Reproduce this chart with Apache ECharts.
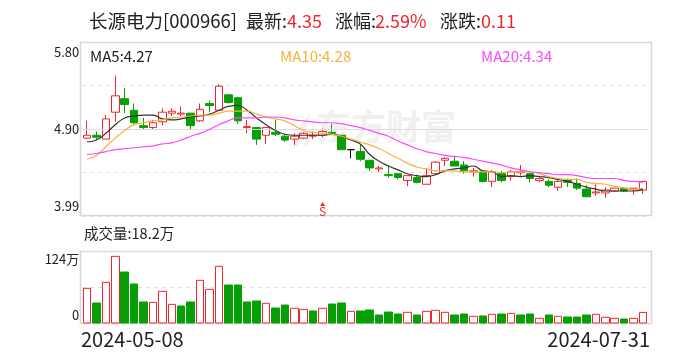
<!DOCTYPE html>
<html>
<head>
<meta charset="utf-8">
<style>
  html, body { margin: 0; padding: 0; background: #fff; }
  #main { width: 688px; height: 360px; }
</style>
<script src="https://cdn.jsdelivr.net/npm/echarts@6/dist/echarts.min.js"></script>
</head>
<body>
<div id="main"></div>
<script>
var dates = [
  '2024-05-08','2024-05-09','2024-05-10','2024-05-13','2024-05-14','2024-05-15','2024-05-16','2024-05-17','2024-05-20','2024-05-21',
  '2024-05-22','2024-05-23','2024-05-24','2024-05-27','2024-05-28','2024-05-29','2024-05-30','2024-05-31','2024-06-03','2024-06-04',
  '2024-06-05','2024-06-06','2024-06-07','2024-06-11','2024-06-12','2024-06-13','2024-06-14','2024-06-17','2024-06-18','2024-06-19',
  '2024-06-20','2024-06-21','2024-06-24','2024-06-25','2024-06-26','2024-06-27','2024-06-28','2024-07-01','2024-07-02','2024-07-03',
  '2024-07-04','2024-07-05','2024-07-08','2024-07-09','2024-07-10','2024-07-11','2024-07-12','2024-07-15','2024-07-16','2024-07-17',
  '2024-07-18','2024-07-19','2024-07-22','2024-07-23','2024-07-24','2024-07-25','2024-07-26','2024-07-29','2024-07-30','2024-07-31'
];
var opens = [
  4.80,4.83,4.79,5.07,5.21,5.09,4.93,4.91,4.97,5.06,
  5.05,5.06,4.98,5.16,5.09,5.25,5.22,4.91,4.91,4.83,
  4.86,4.82,4.79,4.80,4.82,4.83,4.86,4.83,4.68,4.66,
  4.57,4.48,4.42,4.43,4.36,4.39,4.32,4.43,4.57,4.56,
  4.52,4.45,4.45,4.35,4.43,4.40,4.44,4.43,4.36,4.35,
  4.29,4.36,4.33,4.27,4.23,4.23,4.25,4.28,4.27,4.26
];
var closes = [
  4.83,4.81,5.00,5.24,5.15,4.96,4.91,4.96,5.07,5.08,
  5.06,4.93,5.10,5.14,5.34,5.17,4.98,4.92,4.79,4.91,
  4.84,4.78,4.82,4.85,4.83,4.87,4.85,4.68,4.68,4.58,
  4.49,4.49,4.41,4.39,4.41,4.34,4.41,4.55,4.59,4.51,
  4.46,4.46,4.35,4.45,4.36,4.45,4.45,4.38,4.38,4.31,
  4.35,4.34,4.28,4.19,4.24,4.26,4.28,4.25,4.28,4.35
];
var lows = [
  4.79,4.78,4.79,4.97,5.06,4.94,4.89,4.89,4.93,5.03,
  5.03,4.89,4.97,5.07,5.08,5.16,4.95,4.85,4.73,4.74,
  4.82,4.76,4.73,4.79,4.79,4.81,4.83,4.68,4.59,4.56,
  4.46,4.45,4.39,4.37,4.30,4.33,4.32,4.43,4.51,4.51,
  4.43,4.40,4.34,4.29,4.34,4.36,4.41,4.34,4.34,4.29,
  4.25,4.29,4.26,4.19,4.20,4.18,4.24,4.24,4.21,4.22
];
var highs = [
  4.98,4.87,5.04,5.45,5.32,5.16,5.01,4.99,5.11,5.11,
  5.13,5.06,5.16,5.19,5.36,5.26,5.23,4.99,4.91,4.91,
  4.99,4.84,4.85,4.86,4.87,4.90,4.95,4.83,4.69,4.73,
  4.57,4.51,4.51,4.43,4.41,4.42,4.49,4.56,4.60,4.61,
  4.56,4.49,4.46,4.47,4.46,4.47,4.52,4.44,4.39,4.37,
  4.37,4.38,4.38,4.31,4.32,4.29,4.28,4.29,4.28,4.35
];
var ma5 = [
  4.76,4.78,4.85,4.94,5.01,5.03,5.04,5.04,5.00,4.99,
  5.00,5.02,5.03,5.05,5.09,5.13,5.14,5.09,5.01,4.94,
  4.88,4.84,4.83,4.83,4.83,4.83,4.84,4.82,4.78,4.74,
  4.63,4.56,4.51,4.47,4.43,4.41,4.40,4.42,4.46,4.48,
  4.49,4.51,4.46,4.45,4.40,4.41,4.40,4.41,4.40,4.39,
  4.37,4.35,4.32,4.29,4.27,4.25,4.25,4.25,4.25,4.27
];
var ma10 = [
  4.58,4.62,4.71,4.80,4.88,4.94,4.96,4.98,4.99,5.01,
  5.02,5.03,5.04,5.04,5.06,5.08,5.08,5.08,5.05,5.02,
  5.00,4.98,4.93,4.88,4.86,4.85,4.84,4.82,4.79,4.76,
  4.73,4.69,4.64,4.59,4.54,4.50,4.48,4.46,4.46,4.46,
  4.45,4.45,4.45,4.45,4.44,4.45,4.45,4.45,4.43,4.40,
  4.38,4.37,4.37,4.34,4.33,4.32,4.30,4.28,4.27,4.28
];
var ma20 = [
  4.63,4.64,4.66,4.68,4.69,4.70,4.71,4.72,4.74,4.75,
  4.78,4.82,4.85,4.89,4.94,4.98,5.01,5.01,5.01,5.02,
  5.02,5.01,4.99,4.98,4.97,4.96,4.96,4.95,4.93,4.91,
  4.88,4.85,4.82,4.77,4.73,4.69,4.66,4.64,4.62,4.61,
  4.60,4.58,4.56,4.54,4.52,4.49,4.47,4.45,4.44,4.43,
  4.42,4.42,4.41,4.39,4.38,4.38,4.38,4.36,4.35,4.34
];
// 单位: 万
var volumes = [
  59.7,34.4,70.0,114.8,87.8,67.2,36.2,35.6,54.5,32.1,
  29.3,36.2,73.5,58.0,97.6,65.4,65.4,36.2,37.9,33.9,
  25.8,31.0,25.3,23.5,20.7,25.3,32.7,34.4,20.1,20.7,
  22.4,13.8,18.9,15.5,18.4,13.8,20.1,21.8,18.4,13.8,
  15.5,11.5,12.1,14.9,15.5,16.6,13.8,15.5,8.0,13.8,
  11.5,10.3,10.3,13.8,14.9,9.8,8.0,6.9,8.0,18.2
];
// 成交量柱的涨跌 1红 0绿
var volumeUp = [
  1,0,1,1,0,0,0,1,1,1,
  0,0,1,1,1,0,0,0,0,1,
  0,0,1,1,0,1,0,0,1,0,
  0,0,0,0,1,0,1,1,1,0,
  0,1,0,1,0,1,0,0,1,0,
  1,0,0,0,1,1,1,0,1,1
];
var priceMin = 3.99;
var priceMid = 4.895;
var priceMax = 5.80;
var priceStep = 0.4525;
var priceTickLabels = ['3.99', '4.90', '5.80'];
var volumeMax = 124;
var volumeTickLabels = ['0', '124万'];
var signalDate = '2024-06-13';
var signalPrice = 4.115;

var RED = '#f0262c';
var GREEN = '#06a006';
var FONT = '"Noto Sans CJK SC", "Noto Sans", sans-serif';

function headText(x, y, text, fill, size) {
  return {
    type: 'text', left: x, top: y, silent: true,
    style: { text: text, fill: fill, font: size + 'px ' + FONT }
  };
}

var candleData = dates.map(function (d, i) {
  return [opens[i], closes[i], lows[i], highs[i]];
});

// 用K线画成交量, 柱子边缘才是清晰的
var volumeData = volumes.map(function (v, i) {
  return volumeUp[i] ? [0, v, 0, v] : [v, 0, 0, v];
});

var candleStyle = {
  color: '#fff', color0: GREEN,
  borderColor: RED, borderColor0: GREEN, borderColorDoji: '#000', borderWidth: 1
};

function maLine(name, data, color) {
  return {
    name: name, type: 'line', data: data, smooth: true, showSymbol: false,
    silent: true, z: 5,
    lineStyle: { color: color, width: 1.2 }
  };
}

var chart = echarts.init(document.getElementById('main'));
chart.setOption({
  animation: false,
  backgroundColor: '#fff',
  grid: [
    { left: 82.3, width: 565.4, top: 42, height: 174 },
    { left: 82.3, width: 565.4, top: 251, height: 72 }
  ],
  xAxis: [
    { type: 'category', data: dates, gridIndex: 0, axisLine: { show: false }, axisTick: { show: false }, axisLabel: { show: false }, splitLine: { show: false } },
    { type: 'category', data: dates, gridIndex: 1, axisLine: { show: false }, axisTick: { show: false }, axisLabel: { show: false }, splitLine: { show: false } }
  ],
  yAxis: [
    {
      type: 'value', gridIndex: 0, scale: true,
      min: priceMin, max: priceMax, interval: priceStep,
      axisLine: { show: false }, axisTick: { show: false },
      axisLabel: {
        color: '#222', fontSize: 13, fontFamily: FONT, margin: 3, lineHeight: 20,
        verticalAlignMaxLabel: 'top', verticalAlignMinLabel: 'bottom',
        formatter: function (v, i) {
          return i % 2 === 0 ? priceTickLabels[i / 2] : '';
        }
      },
      splitLine: { lineStyle: { color: '#e0e0e0', type: [4, 4] } }
    },
    {
      type: 'value', gridIndex: 1, min: 0, max: volumeMax, interval: volumeMax / 2,
      axisLine: { show: false }, axisTick: { show: false },
      axisLabel: {
        color: '#222', fontSize: 13, fontFamily: FONT, margin: 3, lineHeight: 16,
        verticalAlignMaxLabel: 'top', verticalAlignMinLabel: 'bottom',
        formatter: function (v, i) {
          return i % 2 === 0 ? volumeTickLabels[i / 2] : '';
        }
      },
      splitLine: { lineStyle: { color: '#e0e0e0', type: [4, 4] } }
    }
  ],
  series: [
    {
      // 中间那条是实线
      type: 'line', data: [], silent: true, z: 1,
      markLine: {
        silent: true, symbol: 'none', label: { show: false }, animation: false,
        lineStyle: { color: '#dcdcdc', type: 'solid', width: 1 },
        data: [{ yAxis: priceMid }]
      }
    },
    {
      name: 'K', type: 'candlestick', data: candleData, barWidth: 8, z: 3,
      itemStyle: candleStyle,
      markPoint: {
        silent: true, animation: false,
        data: [
          {
            coord: [signalDate, signalPrice], symbol: 'triangle', symbolSize: [5, 4],
            itemStyle: { color: RED },
            label: { show: true, position: 'bottom', distance: -1, formatter: 'S', color: RED, fontSize: 12, fontFamily: FONT }
          }
        ]
      }
    },
    maLine('MA5', ma5, '#333333'),
    maLine('MA10', ma10, '#f9b13c'),
    maLine('MA20', ma20, '#ff48ff'),
    {
      name: '成交量', type: 'candlestick', xAxisIndex: 1, yAxisIndex: 1,
      data: volumeData, barWidth: 8, itemStyle: candleStyle
    }
  ],
  graphic: [
    // 水印
    {
      type: 'text', left: 316, top: 109, silent: true, z: -1,
      style: { text: '东方财富', fill: '#f0f0f0', font: 'bold 35px ' + FONT }
    },
    {
      type: 'polygon', silent: true, z: -1,
      shape: { points: [[294, 146], [298, 128], [311, 112], [304, 134], [298, 146]] },
      style: { fill: '#f0f0f0' }
    },
    {
      type: 'polygon', silent: true, z: -1,
      shape: { points: [[303, 146], [309, 132], [314, 126], [312, 138], [307, 146]] },
      style: { fill: '#f0f0f0' }
    },
    // 边框
    { type: 'rect', silent: true, z: -1, shape: { x: 80.5, y: 42.5, width: 571, height: 173 }, style: { fill: 'none', stroke: '#d6d6dc', lineWidth: 1.5 } },
    { type: 'rect', silent: true, z: -1, shape: { x: 80.5, y: 251.5, width: 571, height: 72 }, style: { fill: 'none', stroke: '#d6d6dc', lineWidth: 1.5 } },
    // 顶部信息
    headText(89, 12, '长源电力[000966]', '#222', 18.5),
    headText(246, 12, '最新:', '#222', 18),
    headText(287, 12, '4.35', RED, 18),
    headText(335, 12, '涨幅:', '#222', 18),
    headText(375, 12, '2.59%', RED, 18),
    headText(440, 12, '涨跌:', '#222', 18),
    headText(481, 12, '0.11', RED, 18),
    headText(90, 49, 'MA5:4.27', '#222', 15),
    headText(280, 49, 'MA10:4.28', '#f9b13c', 15),
    headText(481, 49, 'MA20:4.34', '#ff48ff', 15),
    headText(84, 226, '成交量:18.2万', '#222', 14.5),
    headText(81, 329, dates[0], '#222', 20),
    { type: 'text', right: 38, top: 329, silent: true, style: { text: dates[dates.length - 1], fill: '#222', font: '20px ' + FONT } }
  ]
});
</script>
</body>
</html>
